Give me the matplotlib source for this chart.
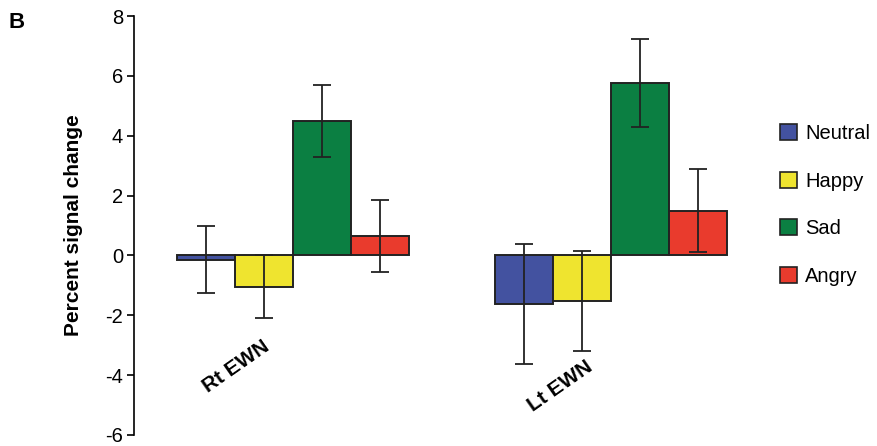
import numpy as np
import matplotlib
matplotlib.use("Agg")
import matplotlib.pyplot as plt
from matplotlib.patches import Patch

plt.rcParams["font.family"] = ["Liberation Sans", "DejaVu Sans"]
plt.rcParams["axes.unicode_minus"] = False

groups = ["Rt EWN", "Lt EWN"]
conditions = ["Neutral", "Happy", "Sad", "Angry"]
colors = ["#4352a0", "#efe42f", "#0b7f42", "#e93b2d"]
means = {
    "Neutral": [-0.15, -1.62],
    "Happy": [-1.05, -1.53],
    "Sad": [4.48, 5.76],
    "Angry": [0.64, 1.50],
}
errs = {
    "Neutral": [1.12, 2.0],
    "Happy": [1.05, 1.68],
    "Sad": [1.2, 1.47],
    "Angry": [1.2, 1.4],
}

fig = plt.figure(figsize=(8.77, 4.46), dpi=100)
ax = fig.add_axes([134/877, 1-435/446, (740-134)/877, (435-16)/446])

group_left = [0.74, 6.22]
for i, c in enumerate(conditions):
    xs = [g + 0.5 + i for g in group_left]
    ax.bar(xs, means[c], width=1.0, color=colors[i], edgecolor="#222222", linewidth=1.4, zorder=2)
    ax.errorbar(xs, means[c], yerr=errs[c], fmt="none", ecolor="#222222",
                elinewidth=1.3, capsize=6.5, capthick=1.3, zorder=3)

ax.set_xlim(0, 10.45)
ax.set_ylim(-6, 8)
ax.set_yticks(np.arange(-6, 9, 2))
ax.set_xticks([])
for s in ["top", "right", "bottom"]:
    ax.spines[s].set_visible(False)
ax.spines["left"].set_linewidth(1.2)
ax.tick_params(axis="y", direction="out", length=5, width=1.2, labelsize=14.5, pad=3)
ax.set_ylabel("Percent signal change", fontsize=15, fontweight="bold", labelpad=16)

label_pos = [(236, 367), (560, 386)]
for g, (px, py) in zip(groups, label_pos):
    fig.text(px/877, 1-py/446, g, fontsize=15, fontweight="bold", rotation=35,
             ha="center", va="center", rotation_mode="anchor")

fig.text(8/877, 1-22/446, "B", fontsize=16, fontweight="bold", va="center")

handles = [Patch(facecolor=colors[i], edgecolor="#222222", linewidth=1.2, label=c)
           for i, c in enumerate(conditions)]
fig.legend(handles=handles, loc="upper left", bbox_to_anchor=(772/877, 1-116/446),
           frameon=False, fontsize=14.5, handlelength=0.85, handleheight=0.85,
           handletextpad=0.4, labelspacing=1.42, borderaxespad=0)

fig.savefig("out.png", dpi=100)
